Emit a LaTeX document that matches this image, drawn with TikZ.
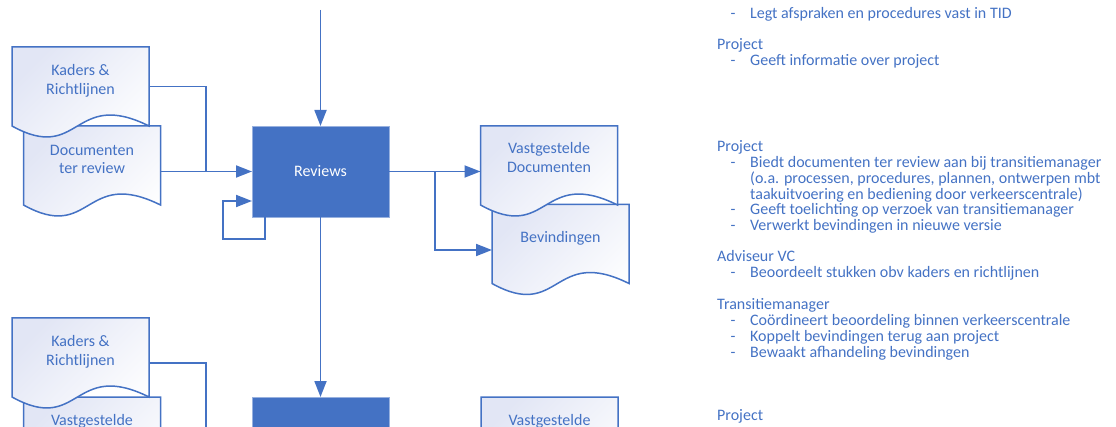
\documentclass[tikz,border=0pt]{standalone}
\usepackage{fontspec}
\setmainfont{Carlito}
\usetikzlibrary{arrows.meta,calc}
\definecolor{ob}{RGB}{68,114,196}
\definecolor{lav}{RGB}{226,230,245}
\tikzset{
 conn/.style={draw=ob, line width=1.8pt},
 arr/.style={conn, -{Triangle[length=16pt,width=12pt]}},
 docbox/.style={minimum width=137pt, minimum height=79pt, inner sep=0pt, outer sep=0pt},
 docline/.style={draw=ob, line width=1.5pt, top color=lav, bottom color=white, shading angle=45},
 dtxt/.style={text=ob, font=\fontsize{16}{19}\selectfont, anchor=base, inner sep=0pt},
 rt/.style={text=ob, font=\fontsize{16}{16}\selectfont, anchor=base west, inner sep=0pt},
 procbox/.style={fill=ob, draw=ob!55!white, line width=0.8pt, minimum width=137pt, minimum height=91pt, inner sep=0pt, outer sep=0pt, text=white, font=\fontsize{16}{19}\selectfont},
}
\newcommand\docshape[1]{\path[docline] (#1.north west) -- (#1.north east) -- (#1.south east) .. controls ($(#1.south)+(-8,-38)$) and ($(#1.south)+(0,38)$) .. (#1.south west) -- cycle;}
\newcommand\dash{\makebox[19.5pt][l]{-}}
\begin{document}
\begin{tikzpicture}[x=1pt,y=-1pt]
\useasboundingbox (0,0) rectangle (1116,427);
% document shape anchors
\node[docbox] (doc1) at (92,165.5) {};
\node[docbox] (kad1) at (80.5,86.5) {};
\node[docbox] (bev) at (560.5,244) {};
\node[docbox] (vas1) at (549,165.5) {};
\node[docbox] (vas2) at (92,436.5) {};
\node[docbox] (kad2) at (80.5,357.5) {};
\node[docbox] (vas3) at (549.5,436.5) {};
% shapes (back to front)
\docshape{doc1}
\docshape{kad1}
\docshape{bev}
\docshape{vas1}
\docshape{vas2}
\docshape{kad2}
\docshape{vas3}
% texts in documents
\node[dtxt] (kad1a) at (80.5,76) {Kaders \&};
\node[dtxt] (kad1b) at (80.5,94.5) {Richtlijnen};
\node[dtxt] (doc1a) at (92,155.5) {Documenten};
\node[dtxt] (doc1b) at (92,174) {ter review};
\node[dtxt] (vas1a) at (549,154) {Vastgestelde};
\node[dtxt] (vas1b) at (549,172.5) {Documenten};
\node[dtxt] (beva) at (560.5,243) {Bevindingen};
\node[dtxt] (kad2a) at (80.5,347) {Kaders \&};
\node[dtxt] (kad2b) at (80.5,365.5) {Richtlijnen};
\node[dtxt] (vas2a) at (92,425) {Vastgestelde};
\node[dtxt] (vas3a) at (549.5,425) {Vastgestelde};
% process boxes
\node[procbox] (rev) at (320.5,171.5) {Reviews};
\node[procbox] (rev2) at (320.5,442.5) {};
% connectors
\coordinate (topin) at (320.5,10);
\coordinate (j1) at (206,171.5);
\coordinate (out2) at (206,440);
\draw[arr] (topin) -- (rev.north);
\draw[conn] (kad1.east) -| (j1);
\draw[arr] (doc1.east |- rev.west) -- (rev.west);
\draw[arr] ([xshift=13pt]rev.south west) -- ++(0,22) -- ++(-42,0) -- ++(0,-38) -- ([yshift=-29.5pt]rev.west);
\draw[arr] (rev.east) -- (vas1.west |- rev.east);
\draw[arr] ([xshift=46pt]rev.east) |- ([yshift=-6pt]bev.west);
\draw[arr] (rev.south) -- (rev2.north);
\draw[conn] ([yshift=-5.5pt]kad2.east) -| (out2);
% right-hand text
\node[rt] (t1) at (730.5,18.5) {\dash Legt afspraken en procedures vast in TID};
\node[rt] (t2) at (717,50) {Project};
\node[rt] (t3) at (730.5,66) {\dash Geeft informatie over project};
\node[rt] (t4) at (717,152) {Project};
\node[rt] (t5) at (730.5,168) {\dash Biedt documenten ter review aan bij transitiemanager};
\node[rt] (t6) at (750,184) {(o.a. processen, procedures, plannen, ontwerpen mbt};
\node[rt] (t7) at (750,199.5) {taakuitvoering en bediening door verkeerscentrale)};
\node[rt] (t8) at (730.5,215) {\dash Geeft toelichting op verzoek van transitiemanager};
\node[rt] (t9) at (730.5,231) {\dash Verwerkt bevindingen in nieuwe versie};
\node[rt] (t10) at (717,262) {Adviseur VC};
\node[rt] (t11) at (730.5,278) {\dash Beoordeelt stukken obv kaders en richtlijnen};
\node[rt] (t12) at (717,310) {Transitiemanager};
\node[rt] (t13) at (730.5,326) {\dash Coördineert beoordeling binnen verkeerscentrale};
\node[rt] (t14) at (730.5,342) {\dash Koppelt bevindingen terug aan project};
\node[rt] (t15) at (730.5,358) {\dash Bewaakt afhandeling bevindingen};
\node[rt] (t16) at (717,420) {Project};
\end{tikzpicture}
\end{document}
